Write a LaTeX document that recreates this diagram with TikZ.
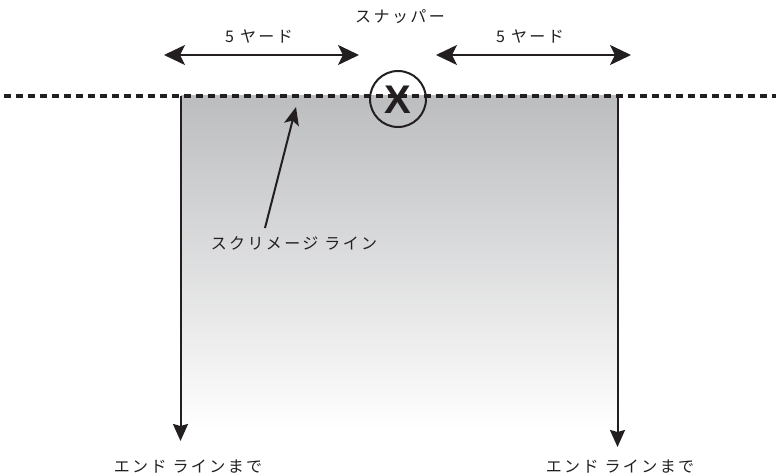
\documentclass[tikz,border=0pt]{standalone}
\usepackage{fontspec}
\setmainfont{Noto Sans CJK JP}[LetterSpace=15]
\newfontfamily\xfont{Liberation Sans}
\usetikzlibrary{arrows.meta}
\definecolor{ink}{HTML}{231F20}
\definecolor{fieldgray}{HTML}{BCBDBF}
\begin{document}
\begin{tikzpicture}[x=1pt,y=-1pt,
  lbl/.style={text=ink,font=\fontsize{16}{18}\selectfont,inner sep=0pt},
  dimarrow/.style={draw=ink,line width=2pt,{Stealth[length=21pt,width=20pt,inset=5pt]}-{Stealth[length=21pt,width=20pt,inset=5pt]}},
  downarrow/.style={draw=ink,line width=2pt,-{Stealth[length=17pt,width=15pt,inset=2pt]}},
  ptr/.style={draw=ink,line width=2pt,-{Stealth[length=18pt,width=15pt,inset=4pt]}}]
\useasboundingbox (0,0) rectangle (776,476);
% gradient field
\shade[top color=fieldgray,bottom color=white] (181,96) rectangle (617,430);
% side lines with arrows
\coordinate (tl) at (180.5,96);
\coordinate (tr) at (617.5,96);
\coordinate (bl) at (180.5,441);
\coordinate (br) at (617.5,447);
\draw[downarrow] (tl) -- (bl);
\draw[downarrow] (tr) -- (br);
% line of scrimmage
\coordinate (ls) at (4,96);
\coordinate (le) at (776,96);
\draw[ink,line width=4pt,dash pattern=on 7pt off 5pt] (ls) -- (le);
% snapper
\node[circle,draw=ink,line width=2pt,minimum size=56pt,inner sep=0pt] (snap) at (398,99) {};
\node[text=ink,inner sep=0pt] (x) at (398,100) {\xfont\bfseries\fontsize{40}{40}\selectfont X};
\node[lbl] (snaplbl) at (400,17) {スナッパー};
% 5 yard arrows
\coordinate (a1) at (164,55);
\coordinate (a2) at (359,55);
\coordinate (b1) at (436,55);
\coordinate (b2) at (631,55);
\draw[dimarrow] (a1) -- (a2);
\draw[dimarrow] (b1) -- (b2);
\node[lbl] (y1) at (259,37) {5 ヤード};
\node[lbl] (y2) at (530,37) {5 ヤード};
% scrimmage label and pointer
\node[lbl] (scrim) at (294,243) {スクリメージ ライン};
\coordinate (ptip) at (296,107);
\draw[ptr] (265,228) -- (ptip);
% end line labels
\node[lbl] (e1) at (188,467) {エンド ラインまで};
\node[lbl] (e2) at (620,467) {エンド ラインまで};
\end{tikzpicture}
\end{document}
